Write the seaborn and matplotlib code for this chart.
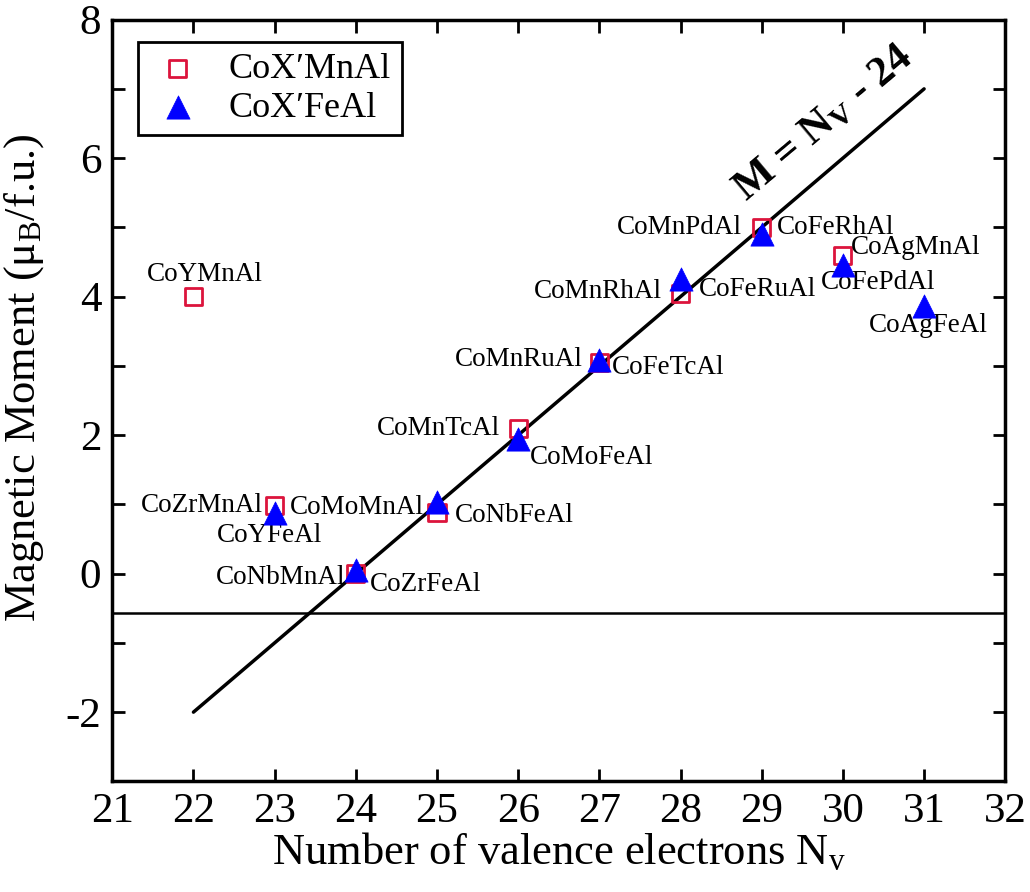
import pandas as pd
import matplotlib
matplotlib.use('Agg')
import matplotlib.pyplot as plt
import seaborn as sns

# data
nv_mn = [22, 23, 24, 25, 26, 27, 28, 29, 30]
m_mn = [4.0, 0.98, 0.0, 0.88, 2.1, 3.05, 4.05, 5.0, 4.6]
nv_fe = [23, 24, 25, 26, 27, 28, 29, 30, 31]
m_fe = [0.88, 0.05, 1.03, 1.95, 3.08, 4.25, 4.9, 4.45, 3.87]

# compound labels: (text, x, y, horizontal alignment)
labels = [
    ('CoYMnAl', 21.43, 4.32, 'left'),
    ('CoZrMnAl', 22.86, 0.99, 'right'),
    ('CoMoMnAl', 23.19, 0.96, 'left'),
    ('CoYFeAl', 22.29, 0.55, 'left'),
    ('CoNbMnAl', 23.87, -0.06, 'right'),
    ('CoZrFeAl', 24.17, -0.16, 'left'),
    ('CoNbFeAl', 25.22, 0.84, 'left'),
    ('CoMnTcAl', 25.77, 2.1, 'right'),
    ('CoMoFeAl', 26.14, 1.68, 'left'),
    ('CoMnRuAl', 26.79, 3.09, 'right'),
    ('CoFeTcAl', 27.15, 2.97, 'left'),
    ('CoMnRhAl', 27.77, 4.07, 'right'),
    ('CoFeRuAl', 28.23, 4.1, 'left'),
    ('CoMnPdAl', 28.76, 5.0, 'right'),
    ('CoFeRhAl', 29.19, 5.0, 'left'),
    ('CoAgMnAl', 30.1, 4.71, 'left'),
    ('CoFePdAl', 29.73, 4.2, 'left'),
    ('CoAgFeAl', 30.32, 3.58, 'left'),
]

# Slater-Pauling line and the horizontal reference line
line_x = [22, 31]
line_y = [x - 24 for x in line_x]
h_level = -0.57

sns.set_style('ticks', {'axes.edgecolor': 'black', 'text.color': 'black',
                        'axes.labelcolor': 'black', 'xtick.color': 'black',
                        'ytick.color': 'black'})
plt.rcParams['font.family'] = ['Liberation Serif', 'DejaVu Serif']
plt.rcParams['mathtext.fontset'] = 'custom'
plt.rcParams['mathtext.rm'] = 'Liberation Serif'
plt.rcParams['mathtext.it'] = 'Liberation Serif:italic'
plt.rcParams['mathtext.bf'] = 'Liberation Serif:bold'
plt.rcParams['axes.unicode_minus'] = False

fig = plt.figure(figsize=(10.30, 8.92), dpi=100)
ax = fig.add_axes([0.109, 0.124, 0.867, 0.854])

df_mn = pd.DataFrame({'Nv': nv_mn, 'M': m_mn})
df_fe = pd.DataFrame({'Nv': nv_fe, 'M': m_fe})

sns.lineplot(x=line_x, y=line_y, color='black', linewidth=2.5, ax=ax)
ax.axhline(h_level, color='black', linewidth=1.8)

sns.scatterplot(data=df_mn, x='Nv', y='M', marker='s', s=150,
                facecolor='none', edgecolor='#DC143C', linewidth=2,
                label='CoX′MnAl', ax=ax, zorder=3)
sns.scatterplot(data=df_fe, x='Nv', y='M', marker='^', s=280,
                color='#0000FF', edgecolor='#0000FF', linewidth=0.5,
                label='CoX′FeAl', ax=ax, zorder=4)

for txt, x, y, ha in labels:
    ax.text(x, y, txt, ha=ha, va='center', fontsize=19.5)

ax.text(29.77, 6.5, 'M = N$_\\mathregular{V}$ - 24', fontsize=31,
        fontweight='bold', rotation=40, ha='center', va='center',
        rotation_mode='anchor')

ax.set_xlim(21, 32)
ax.set_ylim(-3, 8)
ax.set_xticks(range(21, 33))
ax.set_yticks(range(-2, 9, 2))
ax.set_yticks(range(-3, 9), minor=True)
ax.tick_params(which='both', direction='in', top=True, right=True,
               width=2, labelsize=31, length=9)
ax.tick_params(which='major', pad=8)
for sp in ax.spines.values():
    sp.set_linewidth(2.5)
    sp.set_visible(True)

ax.set_xlabel('Number of valence electrons N$_\\mathrm{v}$', fontsize=32, labelpad=0)
ax.set_ylabel('Magnetic Moment (μ$_\\mathrm{B}$/f.u.)', fontsize=32)
ax.yaxis.set_label_coords(-0.074, 0.53)

leg = ax.legend(loc='upper left', bbox_to_anchor=(0.029, 0.971), fontsize=26,
                frameon=True, fancybox=False, edgecolor='black', framealpha=1,
                borderaxespad=0, handletextpad=0.6, borderpad=0.3,
                labelspacing=0.15, handlelength=1.6)
leg.get_frame().set_linewidth(2)

fig.savefig('out.png', dpi=100)
